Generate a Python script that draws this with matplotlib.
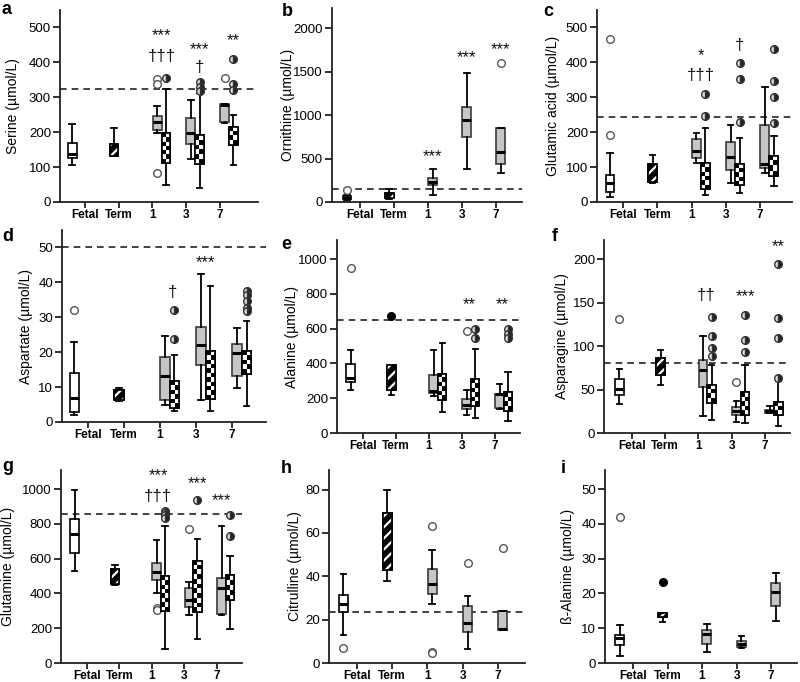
import matplotlib
matplotlib.use('Agg')
import matplotlib.pyplot as plt
from matplotlib.patches import PathPatch
import numpy as np

plt.rcParams['font.family'] = ['Liberation Sans', 'DejaVu Sans']
plt.rcParams['hatch.linewidth'] = 1.6

GROUP_LABELS = ['Fetal', 'Term', '1', '3', '7']
# box order: Fetal, Term, Day1 gray, Day1 checkered, Day3 gray, Day3 checkered, Day7 gray, Day7 checkered
# each box: [whisker low, Q1, median, Q3, whisker high]

serine_boxes = [[106, 125, 137, 168, 223], [132, 132, 150, 166, 211],
                [199, 207, 228, 245, 274], [48, 113, 149, 197, 324],
                [123, 166, 197, 240, 293], [41, 109, 154, 192, 312],
                [226, 228, 279, 281, 281], [106, 162, 189, 216, 250]]
serine_outliers = [[], [], [351, 337, 82], [355], [], [343, 330, 318], [356], [411, 337, 322]]
serine_ref = 325
serine_marks = [(2.5, 476, '***'), (2.5, 418, '†††'), (5, 437, '***'), (5, 385, '†'), (7, 461, '**')]

ornithine_boxes = [[15, 35, 50, 65, 85], [40, 50, 80, 104, 154],
                   [77, 192, 231, 277, 385], None,
                   [385, 742, 942, 1088, 1488], None,
                   [335, 442, 577, 846, 846], None]
ornithine_outliers = [[135], [], [], [], [], [], [1596], []]
ornithine_ref = 154
ornithine_marks = [(2, 519, '***'), (4, 1654, '***'), (6, 1750, '***')]

glutamic_boxes = [[14, 29, 53, 77, 140], [55, 57, 80, 109, 135],
                  [113, 127, 147, 181, 199], [21, 37, 72, 111, 211],
                  [53, 93, 128, 173, 221], [27, 50, 77, 109, 183],
                  [82, 96, 109, 221, 330], [46, 75, 108, 133, 190]]
glutamic_outliers = [[466, 192], [], [], [310, 247], [], [399, 351, 228], [], [438, 348, 301, 226]]
glutamic_ref = 243
glutamic_marks = [(2.5, 418, '*'), (2.5, 361, '†††'), (5, 447, '†')]

aspartate_boxes = [[1.9, 2.9, 6.9, 13.9, 23], [6, 6.3, 7.5, 9.1, 9.8],
                   [5.0, 6.4, 13.3, 18.6, 24.7], [3.2, 4.1, 8.0, 11.8, 19.2],
                   [6.3, 16.3, 22.0, 27.2, 42.5], [3.1, 6.5, 14.4, 20.2, 38.9],
                   [9.8, 13.2, 19.8, 22.4, 26.9], [4.6, 13.8, 17.8, 20.4, 28.8]]
aspartate_outliers = [[32], [], [], [32, 23.8], [], [], [], [37.5, 36.3, 34.6, 32.7, 31.7]]
aspartate_ref = 50
aspartate_marks = [(2.8, 37, '†'), (4.5, 45.7, '***')]

alanine_boxes = [[250, 294, 317, 398, 475], [217, 250, 310, 390, 390],
                 [212, 231, 244, 331, 475], [121, 187, 250, 337, 515],
                 [102, 140, 163, 198, 246], [87, 154, 217, 308, 481],
                 [140, 144, 227, 227, 283], [67, 129, 183, 237, 352]]
alanine_outliers = [[948], [673], [], [], [587], [596, 548], [], [596, 571, 548]]
alanine_ref = 650
alanine_marks = [(4.3, 740, '**'), (6.3, 740, '**')]

asparagine_boxes = [[33, 44, 50.6, 62, 74], [55, 67, 77, 86, 95],
                    [19, 53, 73, 84, 112], [15, 34, 47, 55, 78],
                    [13, 21, 25, 30, 37], [12, 21, 33, 47, 78],
                    [23, 23, 25, 27, 31], [8, 21, 27, 36, 60]]
asparagine_outliers = [[131], [], [], [134, 112, 98, 89], [59], [136, 107, 93], [], [194, 132, 109, 63]]
asparagine_ref = 80
asparagine_marks = [(2.3, 158, '††'), (5, 157, '***'), (7, 214, '**')]

glutamine_boxes = [[527, 632, 741, 828, 996], [448, 454, 498, 540, 565],
                   [402, 479, 521, 575, 709], [82, 297, 412, 498, 790],
                   [274, 322, 360, 431, 464], [140, 291, 402, 588, 713],
                   [278, 282, 431, 489, 789], [197, 364, 437, 504, 613]]
glutamine_outliers = [[], [], [316, 306], [875, 862, 849, 833], [772], [935], [], [849, 732]]
glutamine_ref = 856
glutamine_marks = [(2.2, 1077, '***'), (2.2, 958, '†††'), (5, 1029, '***'), (6, 933, '***')]

citrulline_boxes = [[13, 23.5, 27.3, 31.2, 41], [37.6, 43, 45, 69, 80],
                    [27.3, 32, 36.6, 43.5, 52], None,
                    [6.6, 14.3, 18.4, 26.3, 30.9], None,
                    [15.1, 15.1, 15.5, 23.8, 23.8], None]
citrulline_outliers = [[7], [], [63.1, 5.1, 4.6], [], [46.2], [], [53], []]
citrulline_ref = 23.5
citrulline_marks = []

balanine_boxes = [[2, 5.1, 7.2, 8, 11], [11.8, 13.2, 14, 14.4, 14.4],
                  [3.2, 5.6, 8.4, 9.6, 11.3], None,
                  [4.3, 4.6, 5.6, 6.3, 7.7], None,
                  [12.1, 16.3, 20.5, 23.1, 25.9], None]
balanine_outliers = [[42], [23.3], [], [], [], [], [], []]
balanine_ref = None
balanine_marks = []

# ---------------- layout / style ----------------
W, H = 800, 682
fig = plt.figure(figsize=(8, 6.82), dpi=100)

SLOT_TICK = [0, 1, 2, 2, 3, 3, 4, 4]
SLOT_OFF = [-0.38, -0.14, 0.14, 0.40, 0.14, 0.40, 0.14, 0.40]
SLOT_KIND = ['white', 'hatch', 'gray', 'check', 'gray', 'check', 'gray', 'check']


def slot_x(s):
    i = int(np.floor(s))
    f = s - i
    x0 = SLOT_TICK[i] + SLOT_OFF[i]
    if f == 0:
        return x0
    x1 = SLOT_TICK[i + 1] + SLOT_OFF[i + 1]
    return x0 + f * (x1 - x0)


FLIER = {
    'white': dict(marker='o', markerfacecolor='white', markeredgecolor='#555555', markersize=5.5, markeredgewidth=1),
    'gray': dict(marker='o', markerfacecolor='white', markeredgecolor='#555555', markersize=5.5, markeredgewidth=1),
    'hatch': dict(marker='o', markerfacecolor='black', markeredgecolor='black', markersize=5.5),
    'check': dict(marker='o', markerfacecolor='#222222', markerfacecoloralt='#dddddd', fillstyle='right',
                  markeredgecolor='#333333', markersize=5.5, markeredgewidth=1),
}
FACE = {'white': 'white', 'gray': '#c6c6c6', 'hatch': 'black', 'check': 'white'}
EDGE = {'white': 'black', 'gray': '#3a3a3a', 'hatch': 'black', 'check': 'black'}


def panel(letter, rect, letter_xy, label_x, boxes, outliers, ref, marks, yticks, ylim, xlim, ylabel):
    l, t, r, b = rect
    ax = fig.add_axes([l / W, 1 - b / H, (r - l) / W, (b - t) / H])
    ax.set_xlim(*xlim)
    ax.set_ylim(*ylim)
    for s, (st, out) in enumerate(zip(boxes, outliers)):
        if st is None:
            continue
        kind = SLOT_KIND[s]
        x = SLOT_TICK[s] + SLOT_OFF[s]
        stats = [dict(whislo=st[0], q1=st[1], med=st[2], q3=st[3], whishi=st[4], fliers=out)]
        res = ax.bxp(stats, positions=[x], widths=[0.26], capwidths=[0.16], patch_artist=True,
                     manage_ticks=False,
                     boxprops=dict(facecolor=FACE[kind], edgecolor=EDGE[kind], linewidth=1.2),
                     medianprops=dict(color='black', linewidth=2.2, solid_capstyle='butt'),
                     whiskerprops=dict(color='black', linewidth=1.3),
                     capprops=dict(color='black', linewidth=1.3),
                     flierprops=FLIER[kind])
        box = res['boxes'][0]
        zb = box.get_zorder()
        if kind == 'hatch':
            ax.add_patch(PathPatch(box.get_path(), transform=box.get_transform(), facecolor='none',
                                   edgecolor='white', hatch='///', linewidth=0, zorder=zb + 0.1))
            ax.add_patch(PathPatch(box.get_path(), transform=box.get_transform(), facecolor='none',
                                   edgecolor='black', linewidth=1.2, zorder=zb + 0.2))
        elif kind == 'check':
            v = box.get_path().vertices
            x0, x1 = v[:, 0].min(), v[:, 0].max()
            y0, y1 = v[:, 1].min(), v[:, 1].max()
            hp = abs(ax.transData.transform((0, y1))[1] - ax.transData.transform((0, y0))[1])
            nrows = max(1, int(round(hp / 4.5)))
            board = np.indices((nrows, 2)).sum(axis=0) % 2
            im = ax.imshow(board, extent=(x0, x1, y0, y1), cmap='gray', vmin=0, vmax=1,
                           interpolation='nearest', aspect='auto', zorder=zb + 0.1)
            im.set_clip_path(box)
            ax.add_patch(PathPatch(box.get_path(), transform=box.get_transform(), facecolor='none',
                                   edgecolor='black', linewidth=1.2, zorder=zb + 0.2))
    if ref is not None:
        ax.axhline(ref, color='#222222', linestyle=(0, (4, 3)), linewidth=1.2, zorder=1)
    for s, y, txt in marks:
        ax.text(slot_x(s), y, txt, ha='center', va='center', fontsize=12, color='#111111')
    ax.set_xlim(*xlim)
    ax.set_ylim(*ylim)
    ax.set_xticks(range(5))
    ax.set_xticklabels(GROUP_LABELS, fontsize=8.5, fontweight='bold')
    ax.set_yticks(yticks)
    ax.tick_params(axis='y', labelsize=9.5, length=5, width=1.3, color='#222222', pad=1.5)
    ax.tick_params(axis='x', length=4, width=1.3, color='#222222', pad=1)
    for sp in ['top', 'right']:
        ax.spines[sp].set_visible(False)
    for sp in ['left', 'bottom']:
        ax.spines[sp].set_linewidth(1.3)
        ax.spines[sp].set_color('#222222')
    ax.set_ylabel(ylabel, fontsize=10)
    ax.yaxis.set_label_coords((label_x - l) / (r - l), 0.5)
    fig.text(letter_xy[0] / W, 1 - letter_xy[1] / H, letter, fontsize=13, fontweight='bold',
             ha='left', va='top')
    return ax


panel('a', (60, 10, 258, 202), (2, 1), 20, serine_boxes, serine_outliers, serine_ref, serine_marks,
      range(0, 501, 100), (0, 550), (-0.74, 5.13), 'Serine (µmol/L)')
panel('b', (332, 8, 522, 202), (282, 3), 295, ornithine_boxes, ornithine_outliers, ornithine_ref,
      ornithine_marks, range(0, 2001, 500), (0, 2230), (-0.82, 4.76), 'Ornithine (µmol/L)')
panel('c', (597, 10, 792, 202), (543, 3), 560, glutamic_boxes, glutamic_outliers, glutamic_ref,
      glutamic_marks, range(0, 501, 100), (0, 550), (-0.76, 4.93), 'Glutamic acid (µmol/L)')
panel('d', (62, 230, 266, 422), (2, 228), 33, aspartate_boxes, aspartate_outliers, aspartate_ref,
      aspartate_marks, range(0, 51, 10), (0, 55), (-0.72, 4.94), 'Aspartate (µmol/L)')
panel('e', (337, 240, 520, 433), (281, 236), 299, alanine_boxes, alanine_outliers, alanine_ref,
      alanine_marks, range(0, 1001, 200), (0, 1110), (-0.79, 4.76), 'Alanine (µmol/L)')
panel('f', (604, 240, 790, 433), (552, 228), 569, asparagine_boxes, asparagine_outliers, asparagine_ref,
      asparagine_marks, range(0, 201, 50), (0, 222), (-0.84, 4.75), 'Asparagine (µmol/L)')
panel('g', (61, 470, 242, 663), (2, 458), 15, glutamine_boxes, glutamine_outliers, glutamine_ref,
      glutamine_marks, range(0, 1001, 200), (0, 1110), (-0.8, 4.77), 'Glutamine (µmol/L)')
panel('h', (329, 470, 525, 663), (281, 460), 302, citrulline_boxes, citrulline_outliers, citrulline_ref,
      citrulline_marks, range(0, 81, 20), (0, 89), (-0.79, 4.77), 'Citrulline (µmol/L)')
panel('i', (605, 470, 797, 663), (561, 460), 575, balanine_boxes, balanine_outliers, balanine_ref,
      balanine_marks, range(0, 51, 10), (0, 55.5), (-0.81, 4.75), 'ß-Alanine (µmol/L)')

fig.savefig('out.png', dpi=100)
